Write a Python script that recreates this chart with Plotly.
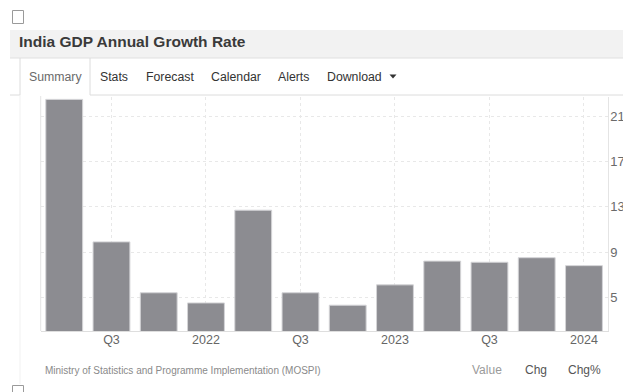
import plotly.graph_objects as go

W, H = 623, 392

# ---- data ----
quarters = ["2021 Q2", "2021 Q3", "2021 Q4", "2022 Q1", "2022 Q2", "2022 Q3",
            "2022 Q4", "2023 Q1", "2023 Q2", "2023 Q3", "2023 Q4", "2024 Q1"]
gdp_growth = [22.5, 9.9, 5.4, 4.5, 12.7, 5.4, 4.3, 6.1, 8.2, 8.1, 8.5, 7.8]
x_tick_vals = ["2021 Q3", "2022 Q1", "2022 Q3", "2023 Q1", "2023 Q3", "2024 Q1"]
x_tick_text = ["Q3", "2022", "Q3", "2023", "Q3", "2024"]
y_tick_vals = [5, 9, 13, 17, 21]
tabs = ["Summary", "Stats", "Forecast", "Calendar", "Alerts", "Download"]
tab_x = [29, 99.5, 145.5, 210.5, 277.5, 327.3]

FONT = "Liberation Sans, Arial, sans-serif"
PAD = 2  # annotation inner padding compensation


def px(x):
    return x / W


def py(y):
    return 1 - y / H


fig = go.Figure()
fig.add_trace(go.Bar(
    x=quarters, y=gdp_growth,
    marker=dict(color="#8c8c91", line=dict(color="#d4d4d7", width=1)),
    hoverinfo="skip",
))

shapes = []
# checkbox squares
shapes.append(dict(type="rect", xref="paper", yref="paper",
                   x0=px(12.5), x1=px(23.5), y0=py(10.5), y1=py(23.5),
                   line=dict(color="#9a9a9a", width=1), fillcolor="white"))
shapes.append(dict(type="rect", xref="paper", yref="paper",
                   x0=px(12.5), x1=px(23.5), y0=py(385.5), y1=py(398),
                   line=dict(color="#9a9a9a", width=1), fillcolor="white"))
# title band
shapes.append(dict(type="rect", xref="paper", yref="paper", layer="below",
                   x0=px(10), x1=px(623), y0=py(30), y1=py(58),
                   line=dict(width=0), fillcolor="#f2f2f2"))
shapes.append(dict(type="line", xref="paper", yref="paper",
                   x0=px(10), x1=px(623), y0=py(58), y1=py(58),
                   line=dict(color="#e0e0e0", width=1)))
# tab borders
for seg in [((20, 58), (20, 95)), ((90, 58), (90, 95)),
            ((90, 95), (623, 95)), ((10, 95), (20, 95))]:
    (xa, ya), (xb, yb) = seg
    shapes.append(dict(type="line", xref="paper", yref="paper",
                       x0=px(xa), x1=px(xb), y0=py(ya), y1=py(yb),
                       line=dict(color="#dcdcdc", width=1)))
# dropdown caret of the Download tab
shapes.append(dict(type="path", xref="paper", yref="paper",
                   path="M {} {} L {} {} L {} {} Z".format(px(389.5), py(74.5), px(396.5), py(74.5),
                                                          px(393), py(78.5)),
                   line=dict(width=0), fillcolor="#333333"))
# faint container line
shapes.append(dict(type="line", xref="paper", yref="paper",
                   x0=px(20), x1=px(20), y0=py(95), y1=py(384),
                   line=dict(color="#f1f1f1", width=1)))
# left plot border
shapes.append(dict(type="line", xref="paper", yref="paper",
                   x0=px(40.7), x1=px(40.7), y0=py(96), y1=py(331),
                   line=dict(color="#e4e4e4", width=1)))

annotations = []
annotations.append(dict(text="<b>India GDP Annual Growth Rate</b>", xref="paper", yref="paper",
                        x=px(18.5 - PAD), y=py(42), xanchor="left", yanchor="middle", showarrow=False,
                        font=dict(family=FONT, size=15.5, color="#3a3a3a")))
for i, (t, tx) in enumerate(zip(tabs, tab_x)):
    annotations.append(dict(text=t, xref="paper", yref="paper",
                            x=px(tx - PAD), y=py(76.5), xanchor="left", yanchor="middle",
                            showarrow=False,
                            font=dict(family=FONT, size=12.3,
                                      color="#6a6a6a" if i == 0 else "#333333")))
annotations.append(dict(text="Ministry of Statistics and Programme Implementation (MOSPI)",
                        xref="paper", yref="paper", x=px(45 - PAD), y=py(370.5),
                        xanchor="left", yanchor="middle", showarrow=False,
                        font=dict(family=FONT, size=10, color="#8a8a8a")))
for t, tx, c in [("Value", 472.3, "#9a9a9a"), ("Chg", 525, "#555555"), ("Chg%", 567.7, "#555555")]:
    annotations.append(dict(text=t, xref="paper", yref="paper", x=px(tx - PAD), y=py(370),
                            xanchor="left", yanchor="middle", showarrow=False,
                            font=dict(family=FONT, size=12, color=c)))

fig.update_layout(
    width=W, height=H,
    margin=dict(l=0, r=0, t=0, b=0, autoexpand=False),
    paper_bgcolor="white", plot_bgcolor="white",
    showlegend=False,
    bargap=0.22,
    shapes=shapes,
    annotations=annotations,
    font=dict(family=FONT),
    xaxis=dict(
        domain=[px(40.6), px(607.6)],
        type="category", automargin=False,
        tickmode="array", tickvals=x_tick_vals, ticktext=x_tick_text,
        showgrid=True, gridcolor="#e8e8e8", griddash="dot", gridwidth=1,
        showline=True, linecolor="#dedede", linewidth=1,
        ticks="", tickfont=dict(family=FONT, size=12.5, color="#666666"),
        ticklabelstandoff=-3,
        zeroline=False, fixedrange=True,
    ),
    yaxis=dict(
        domain=[py(331), py(97)],
        range=[2.02, 22.71], automargin=False,
        side="right",
        tickmode="array", tickvals=y_tick_vals,
        showgrid=True, gridcolor="#e8e8e8", griddash="dot", gridwidth=1,
        showline=True, linecolor="#e4e4e4", linewidth=1,
        ticks="", ticklabelstandoff=-1,
        tickfont=dict(family=FONT, size=13, color="#6a6a6a"),
        zeroline=False, fixedrange=True,
    ),
)

fig.write_html("out.html", config={"displayModeBar": False})
